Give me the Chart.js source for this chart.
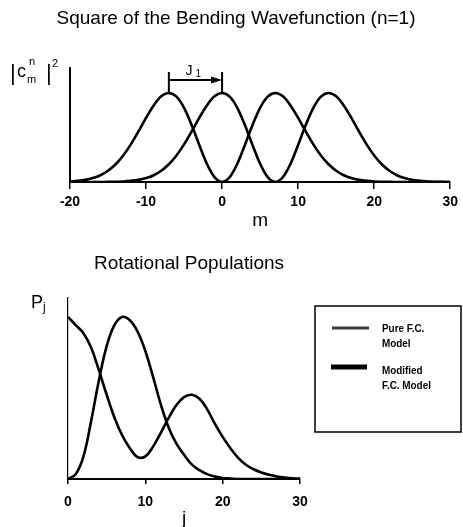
<!DOCTYPE html>
<html>
<head>
<meta charset="utf-8">
<script src="https://cdn.jsdelivr.net/npm/chart.js@4.4.1/dist/chart.umd.min.js"></script>
<style>
  html, body { margin: 0; padding: 0; background: #fff; }
  #wrap { position: relative; width: 463px; height: 527px; }
  canvas { position: absolute; left: 0; }
  #top { top: 0; }
  #bottom { top: 230px; }
</style>
</head>
<body>
<div id="wrap">
  <canvas id="top" width="463" height="230"></canvas>
  <canvas id="bottom" width="463" height="297"></canvas>
</div>
<script>
const FONT = '"Liberation Sans", Arial, Helvetica, sans-serif';

// upper plot: |c_m^n|^2 against m
const mValues = [-20, -19, -18, -17, -16, -15, -14, -13, -12, -11, -10, -9, -8, -7, -6, -5, -4, -3, -2, -1,
  0, 1, 2, 3, 4, 5, 6, 7, 8, 9, 10, 11, 12, 13, 14, 15, 16, 17, 18, 19, 20, 21, 22, 23, 24, 25, 26, 27, 28, 29, 30];
const waveAt0 = [0.006, 0.013, 0.024, 0.044, 0.076, 0.127, 0.199, 0.298, 0.423, 0.568, 0.721, 0.860, 0.962, 1.000, 0.958, 0.833, 0.640, 0.416, 0.205, 0.054,
  0, 0.054, 0.205, 0.416, 0.640, 0.833, 0.958, 1.000, 0.962, 0.860, 0.721, 0.568, 0.423, 0.298, 0.199, 0.127, 0.076, 0.044, 0.024, 0.013, 0.006, 0.003, 0.001, 0, 0, 0, 0, 0, 0, 0, 0];
const waveAt7 = [0, 0, 0, 0, 0, 0.001, 0.003, 0.006, 0.013, 0.024, 0.044, 0.076, 0.127, 0.199, 0.298, 0.423, 0.568, 0.721, 0.860, 0.962,
  1.000, 0.958, 0.833, 0.640, 0.416, 0.205, 0.054, 0, 0.054, 0.205, 0.416, 0.640, 0.833, 0.958, 1.000, 0.962, 0.860, 0.721, 0.568, 0.423, 0.298, 0.199, 0.127, 0.076, 0.044, 0.024, 0.013, 0.006, 0.003, 0.001, 0];
const mTicks = [-20, -10, 0, 10, 20, 30];
const shiftFrom = -7;
const shiftTo = 0;

// lower plot: P_j against j
const jValues = [0, 1, 2, 3, 4, 5, 6, 7, 8, 9, 10, 11, 12, 13, 14, 15, 16, 17, 18, 19, 20, 21, 22, 23, 24, 25, 26, 27, 28, 29, 30];
const pureFC = [0, 3, 14, 36, 61, 82, 95, 100, 98, 91, 79, 63, 46, 32, 22, 15, 9, 5.5, 3, 1.5, 0.6, 0.3, 0, 0, 0, 0, 0, 0, 0, 0, 0];
const modifiedFC = [100, 95, 90, 81, 67, 52, 38, 27, 19, 13.5, 14, 20, 28.5, 37.5, 45.5, 50.5, 52, 49.5, 43, 34, 26, 19, 13, 8.8, 6, 4, 2.6, 1.6, 0.9, 0.4, 0.2];
const jTicks = [0, 10, 20, 30];
const legendLines = [['Pure F.C.', 'Model'], ['Modified', 'F.C. Model']];

Chart.defaults.font.family = FONT;
Chart.defaults.color = '#000';

function points(xs, ys) {
  return xs.map((x, i) => ({ x: x, y: ys[i] }));
}

function curve(label, xs, ys, tension) {
  return {
    label: label,
    data: points(xs, ys),
    borderColor: '#000',
    borderWidth: 2.6,
    pointRadius: 0,
    tension: tension,
    fill: false
  };
}

const topText = {
  id: 'topText',
  afterDraw(chart) {
    const ctx = chart.ctx;
    const xs = chart.scales.x, ys = chart.scales.y;
    ctx.save();
    ctx.fillStyle = '#000';
    ctx.strokeStyle = '#000';

    ctx.textAlign = 'center';
    ctx.textBaseline = 'middle';
    ctx.font = '19px ' + FONT;
    ctx.fillText('Square of the Bending Wavefunction (n=1)', 236, 19);

    // |c_m^n|^2
    ctx.textAlign = 'left';
    ctx.textBaseline = 'alphabetic';
    ctx.font = '22px ' + FONT;
    ctx.fillText('|', 10, 80);
    ctx.fillText('|', 46, 80);
    ctx.font = '18px ' + FONT;
    ctx.fillText('c', 17, 77);
    ctx.font = '11px ' + FONT;
    ctx.fillText('n', 29, 65);
    ctx.fillText('m', 27, 83);
    ctx.fillText('2', 52, 67);

    // J1 arrow
    const x0 = xs.getPixelForValue(shiftFrom);
    const x1 = xs.getPixelForValue(shiftTo);
    const yPeak = ys.getPixelForValue(1);
    const yTop = yPeak - 21, yArrow = yPeak - 13;
    ctx.lineWidth = 2;
    ctx.beginPath();
    ctx.moveTo(x0, yTop); ctx.lineTo(x0, yPeak);
    ctx.moveTo(x1, yTop); ctx.lineTo(x1, yPeak);
    ctx.moveTo(x0, yArrow); ctx.lineTo(x1 - 8, yArrow);
    ctx.stroke();
    ctx.beginPath();
    ctx.moveTo(x1, yArrow);
    ctx.lineTo(x1 - 11, yArrow - 3.5);
    ctx.lineTo(x1 - 11, yArrow + 3.5);
    ctx.closePath();
    ctx.fill();
    const xm = (x0 + x1) / 2;
    ctx.font = '14px ' + FONT;
    ctx.fillText('J', xm - 10, yTop + 3);
    ctx.font = '10px ' + FONT;
    ctx.fillText('1', xm + 0, yTop + 5);
    ctx.restore();
  }
};

function narrowText(ctx, text, x, y) {
  ctx.save();
  ctx.translate(x, y);
  ctx.scale(0.86, 1);
  ctx.fillText(text, 0, 0);
  ctx.restore();
}

const bottomText = {
  id: 'bottomText',
  afterDraw(chart) {
    const ctx = chart.ctx;
    ctx.save();
    ctx.fillStyle = '#000';
    ctx.strokeStyle = '#000';

    ctx.textAlign = 'center';
    ctx.textBaseline = 'middle';
    ctx.font = '19px ' + FONT;
    ctx.fillText('Rotational Populations', 189, 34);

    ctx.textAlign = 'left';
    ctx.textBaseline = 'alphabetic';
    ctx.font = '18px ' + FONT;
    ctx.fillText('P', 31, 78);
    ctx.font = '12px ' + FONT;
    ctx.fillText('j', 43, 81);

    // legend box
    ctx.lineWidth = 1.5;
    ctx.strokeRect(315, 76, 146, 126);
    ctx.strokeStyle = '#3a3a3a';
    ctx.lineWidth = 3;
    ctx.beginPath(); ctx.moveTo(332, 98); ctx.lineTo(369, 98); ctx.stroke();
    ctx.strokeStyle = '#000';
    ctx.lineWidth = 5;
    ctx.beginPath(); ctx.moveTo(331, 137); ctx.lineTo(367, 137); ctx.stroke();

    ctx.font = 'bold 11.5px ' + FONT;
    ctx.textBaseline = 'middle';
    narrowText(ctx, legendLines[0][0], 382, 99);
    narrowText(ctx, legendLines[0][1], 382, 114);
    narrowText(ctx, legendLines[1][0], 382, 141);
    narrowText(ctx, legendLines[1][1], 382, 156);
    ctx.restore();
  }
};

function xScale(min, max, tickList, tickLen, tickPad, titlePad, titleText) {
  return {
    type: 'linear',
    min: min,
    max: max,
    afterBuildTicks: s => { s.ticks = tickList.map(v => ({ value: v })); },
    afterFit: s => { s.height = 48; },
    grid: { display: true, drawOnChartArea: false, drawTicks: true, tickLength: tickLen, color: '#000', lineWidth: 1.5 },
    border: { display: true, color: '#000', width: 2 },
    ticks: { color: '#000', font: { size: 14, weight: 'bold' }, padding: tickPad, maxRotation: 0 },
    title: { display: true, text: titleText, color: '#000', font: { size: 19 }, padding: { top: 0, bottom: titlePad } }
  };
}

new Chart(document.getElementById('top'), {
  type: 'line',
  data: {
    datasets: [
      curve('wavefunction centred at m = 0', mValues, waveAt0, 0.3),
      curve('wavefunction centred at m = 7', mValues, waveAt7, 0.3)
    ]
  },
  options: {
    responsive: false,
    animation: false,
    layout: { padding: { left: 70, right: 11, top: 68, bottom: 0 } },
    plugins: { legend: { display: false }, tooltip: { enabled: false } },
    scales: {
      x: xScale(-20, 30, mTicks, 7, 5, -2, 'm'),
      y: {
        min: 0, max: 1.28,
        afterFit: s => { s.width = 0; },
        grid: { display: false },
        border: { display: true, color: '#000', width: 2 },
        ticks: { display: false }
      }
    }
  },
  plugins: [topText]
});

new Chart(document.getElementById('bottom'), {
  type: 'line',
  data: {
    datasets: [
      curve(legendLines[0].join(' '), jValues, pureFC, 0.4),
      curve(legendLines[1].join(' '), jValues, modifiedFC, 0.4)
    ]
  },
  options: {
    responsive: false,
    animation: false,
    layout: { padding: { left: 68, right: 163, top: 68, bottom: 0 } },
    plugins: { legend: { display: false }, tooltip: { enabled: false } },
    scales: {
      x: xScale(0, 30, jTicks, 5, 10, -3, 'j'),
      y: {
        min: 0, max: 111.7,
        afterFit: s => { s.width = 0; },
        grid: { display: false },
        border: { display: true, color: '#000', width: 1.2 },
        ticks: { display: false }
      }
    }
  },
  plugins: [bottomText]
});
</script>
</body>
</html>
